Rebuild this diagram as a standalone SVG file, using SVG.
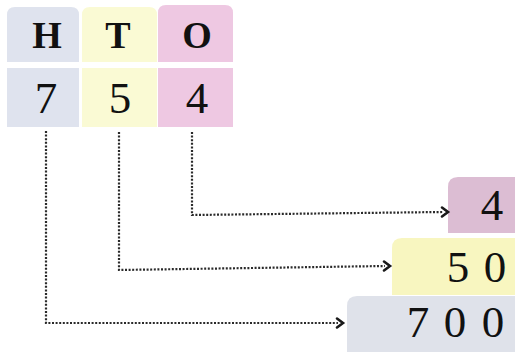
<svg xmlns="http://www.w3.org/2000/svg" width="523" height="357" viewBox="0 0 523 357">
<defs>
<style>
.lbl{font-family:"Liberation Serif","Times New Roman",serif;font-weight:bold;font-size:38px;fill:#111;text-anchor:middle}
.num{font-family:"Liberation Serif","Times New Roman",serif;font-size:45px;fill:#111;text-anchor:middle}
.dot{fill:none;stroke:#2a2a2a;stroke-width:2.2;stroke-dasharray:2 1.6}
.head{fill:none;stroke:#1a1a1a;stroke-width:2.6;stroke-linecap:round;stroke-linejoin:miter}
.h{fill:#dfe3ee}
.t{fill:#fafad4}
.o{fill:#eec8e2}
</style>
</defs>
<rect width="523" height="357" fill="#ffffff"/>
<g id="node-H">
<path class="h" d="M7,62 V15 Q7,7 15,7 H71 Q79,7 79,15 V62 Z"/>
<text class="lbl" x="47" y="48">H</text>
</g>
<g id="node-T">
<path class="t" d="M82,62 V15 Q82,7 90,7 H149 Q157,7 157,15 V62 Z"/>
<text class="lbl" x="118" y="48">T</text>
</g>
<g id="node-O">
<path class="o" d="M158,62 V13 Q158,5 166,5 H225 Q233,5 233,13 V62 Z"/>
<text class="lbl" x="197" y="48">O</text>
</g>
<g id="node-7">
<rect class="h" x="7" y="68" width="72" height="59"/>
<text class="num" x="46" y="113">7</text>
</g>
<g id="node-5">
<rect class="t" x="82" y="68" width="75" height="59"/>
<text class="num" x="120" y="113">5</text>
</g>
<g id="node-4">
<rect class="o" x="158" y="68" width="75" height="59"/>
<text class="num" x="197" y="113">4</text>
</g>
<g id="node-r4">
<path fill="#dcbdd3" d="M448,233 V187 Q448,177 458,177 H515 V233 Z"/>
<text class="num" x="492" y="220" font-size="40">4</text>
</g>
<g id="node-r50">
<path fill="#f8f6c0" d="M392,295 V248 Q392,238 402,238 H515 V295 Z"/>
<text class="num" x="458" y="282">5</text>
<text class="num" x="495" y="282">0</text>
</g>
<g id="node-r700">
<path fill="#dfe2ea" d="M347,352 V306 Q347,296 357,296 H515 V352 Z"/>
<text class="num" x="418" y="337">7</text>
<text class="num" x="455" y="337">0</text>
<text class="num" x="493" y="337">0</text>
</g>
<g id="connectors">
<path class="dot" d="M46,131 V323 H338"/>
<path class="head" d="M337,318.5 L343,323 L337,327.5"/>
<path class="dot" d="M119,132 V270 L385,266"/>
<path class="head" d="M384,261.5 L390,266 L384,270.5"/>
<path class="dot" d="M192,132 V215 L443,212"/>
<path class="head" d="M442,207.5 L448,212 L442,216.5"/>
</g>
</svg>
